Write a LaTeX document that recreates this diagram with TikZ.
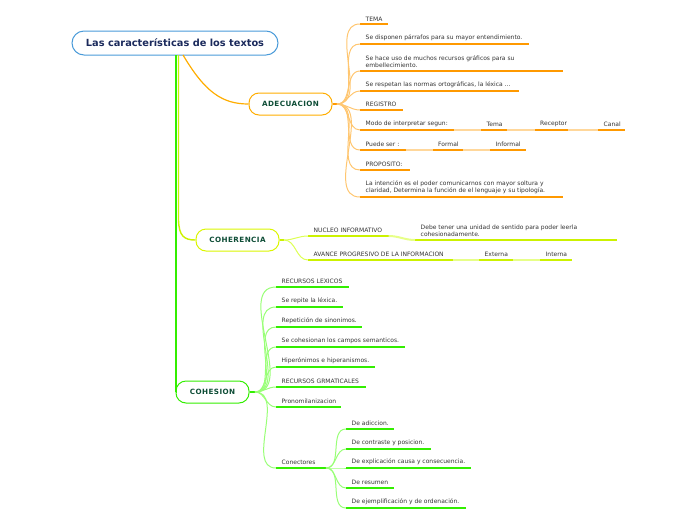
\documentclass[tikz,border=0pt]{standalone}
\usepackage{fontspec}
\setmainfont{DejaVu Sans}
\newfontfamily\nodefont[LetterSpace=6]{DejaVu Sans}
\usetikzlibrary{calc}
\definecolor{rootblue}{HTML}{4A9BD9}
\definecolor{rootnavy}{HTML}{1B2A5C}
\definecolor{nodegreen}{HTML}{0E4D36}
\definecolor{leafgray}{HTML}{333333}
\definecolor{orng}{HTML}{FF9900}
\definecolor{orngl}{HTML}{FFC670}
\definecolor{ygrn}{HTML}{CCF200}
\definecolor{ygrnl}{HTML}{DDFF55}
\definecolor{grn}{HTML}{33EE00}
\definecolor{grnl}{HTML}{99FF77}
\tikzset{
  rootbox/.style={draw=rootblue, line width=1pt, fill=white, rounded corners=12pt,
    minimum width=206pt, minimum height=24pt, inner sep=0pt,
    font=\fontsize{9.8}{11}\selectfont\bfseries, text=rootnavy},
  mainbox/.style={draw=#1, line width=1pt, fill=white, rounded corners=10pt,
    minimum height=22pt, inner sep=0pt,
    font=\nodefont\fontsize{7.2}{8}\selectfont\bfseries, text=nodegreen},
  leaftext/.style={inner sep=0pt, align=left, text=leafgray,
    font=\fontsize{6}{7}\selectfont},
  uline/.style={#1, line width=2pt},
  brl/.style={#1, line width=1pt},
}
% name, x0, x1, y, colour, text
\newcommand\leaf[6]{%
  \coordinate (#1s) at (#2,#4);
  \coordinate (#1e) at (#3,#4);
  \draw[uline=#5] (#1s) -- (#1e);
  \node[leaftext, anchor=south west] (#1) at ([xshift=5.5pt,yshift=2.8pt]#1s) {#6};
}
\begin{document}
\begin{tikzpicture}[x=1pt,y=-1pt]
\useasboundingbox (0,0) rectangle (696,520);

% main nodes
\node[rootbox] (root) at (175,43) {Las características de los textos};
\node[mainbox=orng!80!yellow, minimum width=83pt] (adec) at (290.5,104) {ADECUACION};
\node[mainbox=ygrn!70!yellow, minimum width=83pt] (coher) at (237.5,240) {COHERENCIA};
\node[mainbox=grn, minimum width=73pt] (cohes) at (212.5,392) {COHESION};

% root connectors
\coordinate (ro) at (183,55);
\coordinate (ry) at (178.5,55);
\coordinate (rg) at (176,55);
\coordinate (rgb) at (176,392);
\draw[orng!80!yellow, line width=1.2pt] (ro) .. controls (205,92) and (222,104) .. (adec.west);
\draw[ygrn, line width=1.4pt] (ry) -- (178.5,220) .. controls (179,236) and (184,240) .. (coher.west);
\draw[grn, line width=2pt] (rg) -- (rgb) -- (cohes.west);

% ADECUACION leaves
\leaf{a1}{360}{388}{24}{orng}{TEMA}
\leaf{a2}{360}{529}{44}{orng}{Se disponen párrafos para su mayor entendimiento.}
\leaf{a3}{360}{563}{71}{orng}{Se hace uso de muchos recursos gráficos para su\\embellecimiento.}
\leaf{a4}{360}{518.7}{91}{orng}{Se respetan las normas ortográficas, la léxica ...}
\leaf{a5}{360}{402.5}{110}{orng}{REGISTRO}
\leaf{a6}{360}{454}{130}{orng}{Modo de interpretar segun:}
\leaf{a6a}{481}{507}{130}{orng}{Tema}
\leaf{a6b}{534.5}{568}{130}{orng}{Receptor}
\leaf{a6c}{598}{625}{130}{orng}{Canal}
\leaf{a7}{360}{405.7}{150}{orng}{Puede ser :}
\leaf{a7a}{432.5}{463}{150}{orng}{Formal}
\leaf{a7b}{490}{525.7}{150}{orng}{Informal}
\leaf{a8}{360}{409.7}{170}{orng}{PROPOSITO:}
\leaf{a9}{360}{563}{197}{orng}{La intención es el poder comunicarnos con mayor soltura y\\claridad, Determina la función de el lenguaje y su tipología.}

\coordinate (adecx) at (337,104);
\draw[orng, line width=1.5pt] (adec.east) -- (adecx);
\foreach \n in {a1,a2,a3,a4,a5,a6,a7,a8,a9}
  \draw[brl=orngl] (adecx) to[out=0,in=180] (\n s);
\draw[brl=orngl!70!white, line width=2pt] (a6e) -- (a6as);
\draw[brl=orngl!70!white, line width=2pt] (a6ae) -- (a6bs);
\draw[brl=orngl!70!white, line width=2pt] (a6be) -- (a6cs);
\draw[brl=orngl!70!white, line width=2pt] (a7e) -- (a7as);
\draw[brl=orngl!70!white, line width=2pt] (a7ae) -- (a7bs);

% COHERENCIA leaves
\leaf{c1}{308}{388.7}{236}{ygrn}{NUCLEO INFORMATIVO}
\leaf{c1a}{415}{617}{240}{ygrn}{Debe tener una unidad de sentido para poder leerla\\cohesionadamente.}
\leaf{c2}{308}{452.7}{260}{ygrn}{AVANCE PROGRESIVO DE LA INFORMACION}
\leaf{c2a}{479}{513}{260}{ygrn}{Externa}
\leaf{c2b}{540}{572}{260}{ygrn}{Interna}

\coordinate (coherx) at (284,240);
\draw[ygrn, line width=1.5pt] (coher.east) -- (coherx);
\draw[brl=ygrnl] (coherx) to[out=0,in=180] (c1s);
\draw[brl=ygrnl] (coherx) to[out=0,in=180] (c2s);
\draw[brl=ygrnl!70!white, line width=2pt] (c1e) to[out=0,in=180] (c1as);
\draw[brl=ygrnl!70!white, line width=2pt] (c2e) -- (c2as);
\draw[brl=ygrnl!70!white, line width=2pt] (c2ae) -- (c2bs);

% COHESION leaves
\leaf{h1}{276}{349}{287}{grn}{RECURSOS LEXICOS}
\leaf{h2}{276}{342.7}{307}{grn}{Se repite la léxica.}
\leaf{h3}{276}{362}{327}{grn}{Repetición de sinonimos.}
\leaf{h4}{276}{405}{347}{grn}{Se cohesionan los campos semanticos.}
\leaf{h5}{276}{374.7}{367}{grn}{Hiperónimos e hiperanismos.}
\leaf{h6}{276}{366}{387}{grn}{RECURSOS GRMATICALES}
\leaf{h7}{276}{341}{407}{grn}{Pronomilanizacion}
\leaf{h8}{276}{326}{468}{grn}{Conectores}

\coordinate (cohesx) at (255,392);
\draw[grn, line width=1.5pt] (cohes.east) -- (cohesx);
\foreach \n in {h1,h2,h3,h4,h5,h6,h7,h8}
  \draw[brl=grnl] (cohesx) to[out=0,in=180] (\n s);

\leaf{k1}{346}{394.3}{429}{grn}{De adiccion.}
\leaf{k2}{346}{430.7}{449}{grn}{De contraste y posicion.}
\leaf{k3}{346}{471}{468}{grn}{De explicación causa y consecuencia.}
\leaf{k4}{346}{394}{488}{grn}{De resumen}
\leaf{k5}{346}{466}{508}{grn}{De ejemplificación y de ordenación.}

\foreach \n in {k1,k2,k3,k4,k5}
  \draw[brl=grnl] (h8e) to[out=0,in=180] (\n s);
\end{tikzpicture}
\end{document}
